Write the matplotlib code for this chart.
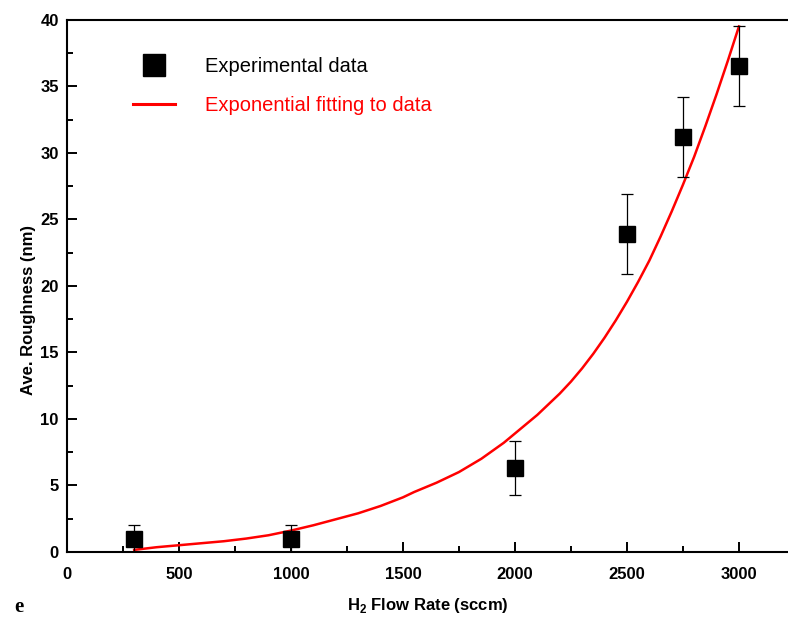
import matplotlib
matplotlib.use('Agg')
import matplotlib.pyplot as plt
from matplotlib.lines import Line2D
from matplotlib.ticker import MultipleLocator

plt.rcParams['font.family'] = ['Liberation Sans', 'DejaVu Sans']
plt.rcParams['mathtext.fontset'] = 'custom'
plt.rcParams['mathtext.rm'] = 'Liberation Sans'
plt.rcParams['mathtext.bf'] = 'Liberation Sans:bold'

# measured roughness
flow = [300, 1000, 2000, 2500, 2750, 3000]
roughness = [1.0, 1.0, 6.3, 23.9, 31.2, 36.5]
rough_err = [1.0, 1.0, 2.0, 3.0, 3.0, 3.0]

# exponential fit curve
fit_x = [300, 400, 500, 600, 700, 800, 900, 1000, 1100, 1200, 1300, 1400,
         1500, 1550, 1600, 1650, 1700, 1750, 1800, 1850, 1900, 1950, 2000,
         2050, 2100, 2150, 2200, 2250, 2300, 2350, 2400, 2450, 2500, 2550,
         2600, 2650, 2700, 2750, 2800, 2850, 2900, 2950, 3000]
fit_y = [0.15, 0.35, 0.5, 0.65, 0.8, 1.0, 1.25, 1.6, 2.0, 2.45, 2.9, 3.45,
         4.1, 4.5, 4.85, 5.2, 5.6, 6.0, 6.5, 7.0, 7.6, 8.2, 8.9,
         9.6, 10.3, 11.1, 11.9, 12.8, 13.8, 14.9, 16.1, 17.4, 18.8, 20.3,
         21.9, 23.7, 25.6, 27.6, 29.7, 32.0, 34.4, 36.9, 39.5]

fig = plt.figure(figsize=(7.88, 6.18), dpi=100)
ax = fig.add_axes([0.085, 0.107, 0.915, 0.861])

ax.plot(fit_x, fit_y, color='red', lw=1.8, zorder=2)
ax.errorbar(flow, roughness, yerr=rough_err, fmt='s', color='black',
            ms=11.5, ecolor='black', elinewidth=0.9, capsize=4,
            capthick=0.9, zorder=3)

ax.set_xlim(0, 3219)
ax.set_ylim(0, 40)
ax.xaxis.set_major_locator(MultipleLocator(500))
ax.xaxis.set_minor_locator(MultipleLocator(250))
ax.yaxis.set_major_locator(MultipleLocator(5))
ax.yaxis.set_minor_locator(MultipleLocator(2.5))
ax.tick_params(which='both', direction='in', width=1.4, top=False, right=False,
               labelsize=12)
ax.tick_params(which='major', length=7.5)
ax.tick_params(which='minor', length=4)
ax.tick_params(axis='x', pad=11)
ax.tick_params(axis='y', pad=6)
for lab in ax.get_xticklabels() + ax.get_yticklabels():
    lab.set_fontweight('bold')

ax.spines['right'].set_visible(False)
for s in ['left', 'bottom', 'top']:
    ax.spines[s].set_linewidth(1.5)

ax.set_xlabel(r'H$_{\mathbf{2}}$ Flow Rate (sccm)', fontsize=12,
              fontweight='bold', va='center')
ax.set_ylabel('Ave. Roughness (nm)', fontsize=12, fontweight='bold',
              va='center')
ax.xaxis.set_label_coords(0.5, -0.101)
ax.yaxis.set_label_coords(-0.053, 0.455)

fig.text(0.018, 0.01, 'e', family='Liberation Serif', fontweight='bold',
         fontsize=15)

handles = [Line2D([], [], ls='none', marker='s', color='black', ms=16),
           Line2D([], [], color='red', lw=2.2)]
leg = ax.legend(handles, ['Experimental data', 'Exponential fitting to data'],
                loc='upper left', bbox_to_anchor=(0.169, 0.907),
                bbox_transform=fig.transFigure, frameon=False, fontsize=14.5,
                handlelength=2.1, handletextpad=1.45, labelspacing=0.95,
                borderpad=0, borderaxespad=0)
leg.get_texts()[1].set_color('red')

fig.savefig('out.png', dpi=100)
